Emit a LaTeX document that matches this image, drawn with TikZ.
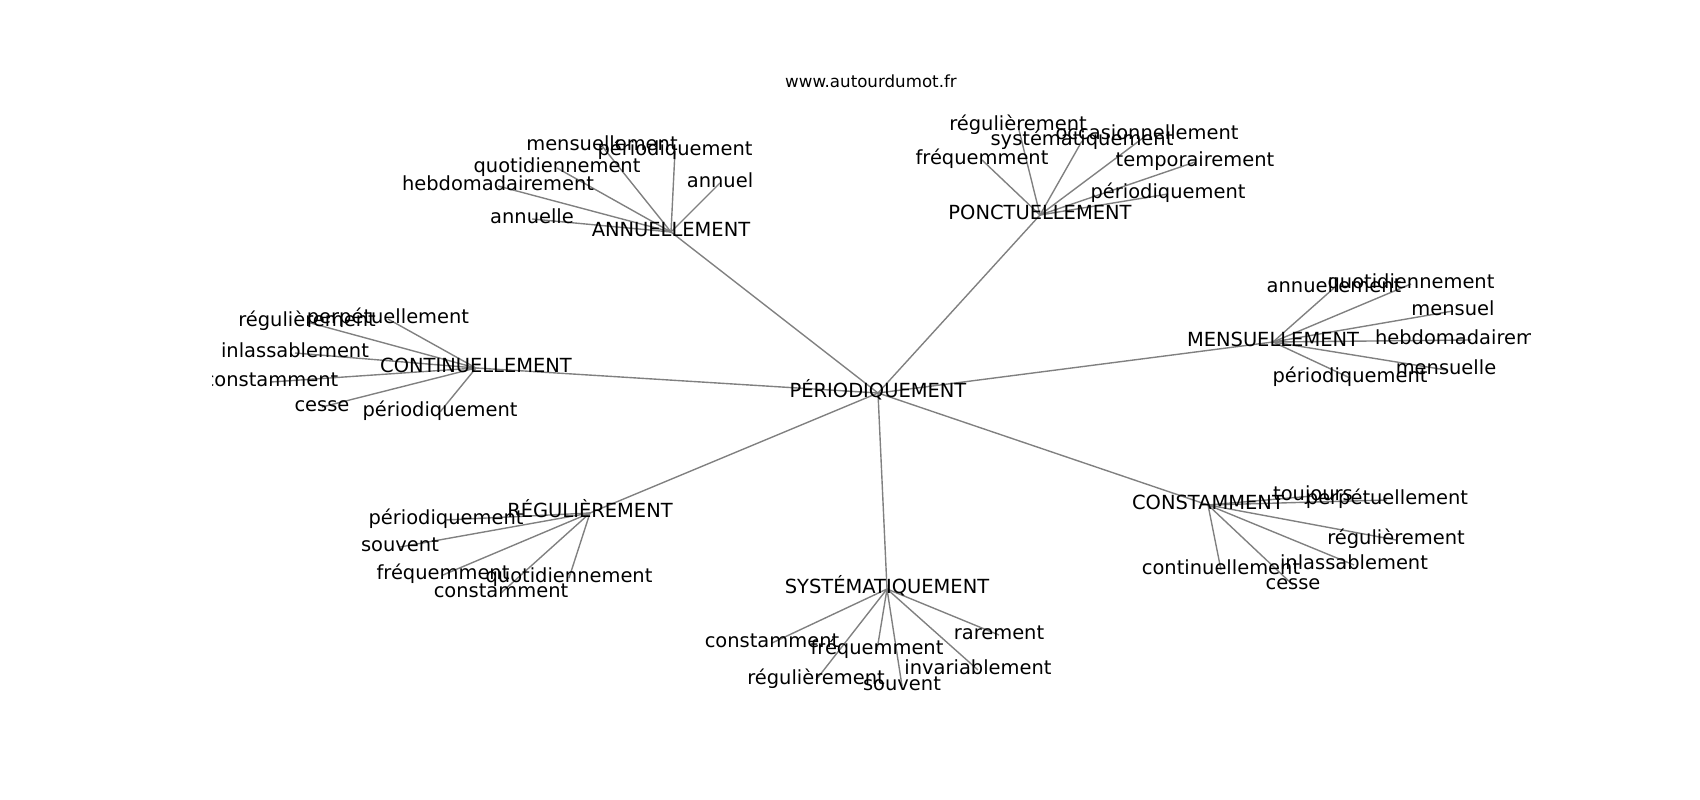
\documentclass[tikz,border=0pt]{standalone}
\usepackage{fontspec}
\setmainfont{DejaVu Sans}
\usetikzlibrary{backgrounds}
\begin{document}
\begin{tikzpicture}[x=0.01in,y=-0.01in,
  lab/.style={inner sep=0pt,outer sep=0pt,text height=0.96em,text depth=0.24em,font=\fontsize{14bp}{16bp}\selectfont,text=black},
  edge/.style={draw={rgb,255:red,128;green,128;blue,128},line width=1bp}]
\useasboundingbox (0,0) rectangle (1700,800);
\node[font=\fontsize{12bp}{14bp}\selectfont,anchor=base,inner sep=0pt] (title) at (871,88) {www.autourdumot.fr};
\begin{scope}
\clip (212.5,96) rectangle (1530,712);
% hubs
\node[lab] (P) at (878,393) {PÉRIODIQUEMENT};
\node[lab] (A) at (671,232) {ANNUELLEMENT};
\node[lab] (PO) at (1040,215) {PONCTUELLEMENT};
\node[lab] (M) at (1273,342) {MENSUELLEMENT};
\node[lab] (C) at (476,368) {CONTINUELLEMENT};
\node[lab] (R) at (590,513) {RÉGULIÈREMENT};
\node[lab] (S) at (887,589) {SYSTÉMATIQUEMENT};
\node[lab] (K) at (1208,505) {CONSTAMMENT};
% ANNUELLEMENT leaves
\node[lab] (a1) at (602,146) {mensuellement};
\node[lab] (a2) at (675,151) {périodiquement};
\node[lab] (a3) at (557,168) {quotidiennement};
\node[lab] (a4) at (498,186) {hebdomadairement};
\node[lab] (a5) at (720,183) {annuel};
\node[lab] (a6) at (532,219) {annuelle};
% PONCTUELLEMENT leaves
\node[lab] (p1) at (1018,126) {régulièrement};
\node[lab] (p2) at (1082,141) {systématiquement};
\node[lab] (p3) at (1147,135) {occasionnellement};
\node[lab] (p4) at (982,160) {fréquemment};
\node[lab] (p5) at (1195,162) {temporairement};
\node[lab] (p6) at (1168,194) {périodiquement};
% MENSUELLEMENT leaves
\node[lab] (m1) at (1334,288) {annuellement};
\node[lab] (m2) at (1411,284) {quotidiennement};
\node[lab] (m3) at (1453,311) {mensuel};
\node[lab] (m4) at (1471,340) {hebdomadairement};
\node[lab] (m5) at (1446,370) {mensuelle};
\node[lab] (m6) at (1350,378) {périodiquement};
% CONTINUELLEMENT leaves
\node[lab] (c1) at (307,322) {régulièrement};
\node[lab] (c2) at (388,319) {perpétuellement};
\node[lab] (c3) at (295,353) {inlassablement};
\node[lab] (c4) at (271,382) {constamment};
\node[lab] (c5) at (322,407) {cesse};
\node[lab] (c6) at (440,412) {périodiquement};
% RÉGULIÈREMENT leaves
\node[lab] (r1) at (446,520) {périodiquement};
\node[lab] (r2) at (400,547) {souvent};
\node[lab] (r3) at (443,575) {fréquemment};
\node[lab] (r4) at (569,578) {quotidiennement};
\node[lab] (r5) at (501,593) {constamment};
% SYSTÉMATIQUEMENT leaves
\node[lab] (s1) at (772,643) {constamment};
\node[lab] (s2) at (877,650) {fréquemment};
\node[lab] (s3) at (999,635) {rarement};
\node[lab] (s4) at (978,670) {invariablement};
\node[lab] (s5) at (816,680) {régulièrement};
\node[lab] (s6) at (902,686) {souvent};
% CONSTAMMENT leaves
\node[lab] (k1) at (1313,496) {toujours};
\node[lab] (k2) at (1387,500) {perpétuellement};
\node[lab] (k3) at (1396,540) {régulièrement};
\node[lab] (k4) at (1354,565) {inlassablement};
\node[lab] (k5) at (1221,570) {continuellement};
\node[lab] (k6) at (1293,585) {cesse};
\end{scope}
\begin{pgfonlayer}{background}
\foreach \h in {A,PO,M,C,R,S,K} \draw[edge] (P.center) -- (\h.center);
\foreach \l in {a1,a2,a3,a4,a5,a6} \draw[edge] (A.center) -- (\l.center);
\foreach \l in {p1,p2,p3,p4,p5,p6} \draw[edge] (PO.center) -- (\l.center);
\foreach \l in {m1,m2,m3,m4,m5,m6} \draw[edge] (M.center) -- (\l.center);
\foreach \l in {c1,c2,c3,c4,c5,c6} \draw[edge] (C.center) -- (\l.center);
\foreach \l in {r1,r2,r3,r4,r5} \draw[edge] (R.center) -- (\l.center);
\foreach \l in {s1,s2,s3,s4,s5,s6} \draw[edge] (S.center) -- (\l.center);
\foreach \l in {k1,k2,k3,k4,k5,k6} \draw[edge] (K.center) -- (\l.center);
\end{pgfonlayer}
\end{tikzpicture}
\end{document}
